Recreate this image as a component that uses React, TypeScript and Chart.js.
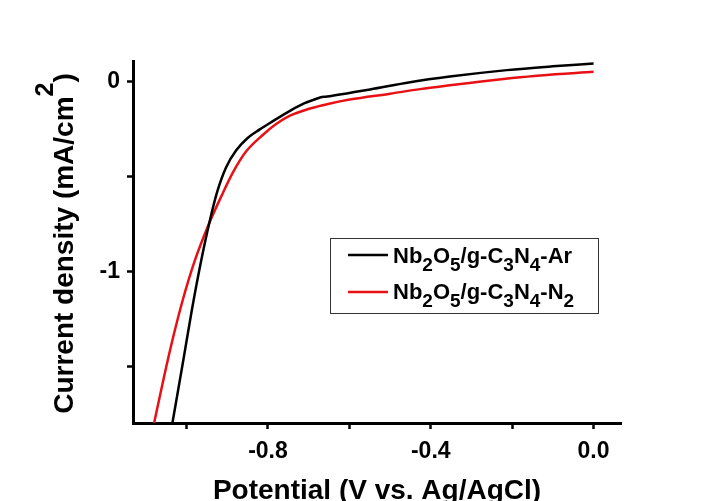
import React, { useEffect, useRef } from "react";
import { Chart, registerables } from "chart.js";

Chart.register(...registerables);

// ---- data ----
const arPotential = [-1.035, -1.008, -0.987, -0.965, -0.945, -0.925, -0.903, -0.878, -0.85, -0.82, -0.795, -0.746, -0.71, -0.69, -0.672, -0.655, -0.6, -0.549, -0.451, -0.353, -0.213, -0.1, 0.0];
const arCurrent = [-1.798, -1.465, -1.2, -0.95, -0.75, -0.58, -0.45, -0.36, -0.295, -0.25, -0.216, -0.152, -0.112, -0.096, -0.082, -0.077, -0.058, -0.04, -0.002, 0.028, 0.062, 0.082, 0.097];

const n2Potential = [-1.08, -1.056, -1.033, -1.009, -0.98, -0.947, -0.914, -0.886, -0.853, -0.812, -0.78, -0.746, -0.697, -0.65, -0.599, -0.5, -0.426, -0.353, -0.295, -0.2, -0.131, 0.0];
const n2Current = [-1.798, -1.558, -1.344, -1.145, -0.942, -0.757, -0.599, -0.476, -0.364, -0.278, -0.222, -0.178, -0.14, -0.115, -0.093, -0.062, -0.038, -0.018, -0.003, 0.02, 0.034, 0.053];

const xTickValues = [-1.0, -0.8, -0.6, -0.4, -0.2, 0.0];
const xTickLabels = ["", "-0.8", "", "-0.4", "", "0.0"];
const yTickValues = [-1.5, -1.0, -0.5, 0.0];
const yTickLabels = ["", "-1", "", "0"];

// legend parts: [text, isSubscript]
const legendAr: [string, boolean][] = [["Nb", false], ["2", true], ["O", false], ["5", true], ["/g-C", false], ["3", true], ["N", false], ["4", true], ["-Ar", false]];
const legendN2: [string, boolean][] = [["Nb", false], ["2", true], ["O", false], ["5", true], ["/g-C", false], ["3", true], ["N", false], ["4", true], ["-N", false], ["2", true]];

const xTitle = "Potential (V vs. Ag/AgCl)";
const yTitleMain = "Current density (mA/cm";
const yTitleSup = "2";
const yTitleEnd = ")";

const FONT = "'Liberation Sans', Arial, Helvetica, sans-serif";
const RED = "rgb(232,16,20)";

const legendPlugin = {
  id: "customLegend",
  afterDraw(chart: any) {
    const ctx = chart.ctx;
    const ca = chart.chartArea;
    const bx = ca.left + 197;
    const by = ca.top + 177;
    const bw = 268;
    const bh = 75;
    ctx.save();
    ctx.fillStyle = "#fff";
    ctx.fillRect(bx, by, bw, bh);
    ctx.strokeStyle = "#333";
    ctx.lineWidth = 1;
    ctx.strokeRect(bx + 0.5, by + 0.5, bw, bh);
    const rows = [
      { parts: legendAr, color: "#000", lineY: by + 17, base: by + 24.5 },
      { parts: legendN2, color: RED, lineY: by + 54, base: by + 61 },
    ];
    for (const r of rows) {
      ctx.strokeStyle = r.color;
      ctx.lineWidth = 2.5;
      ctx.beginPath();
      ctx.moveTo(bx + 18, r.lineY);
      ctx.lineTo(bx + 58, r.lineY);
      ctx.stroke();
      let x = bx + 63;
      ctx.fillStyle = "#000";
      ctx.textBaseline = "alphabetic";
      ctx.textAlign = "left";
      for (const [t, sub] of r.parts) {
        ctx.font = sub ? `bold 19px ${FONT}` : `bold 22px ${FONT}`;
        ctx.fillText(t, x, r.base + (sub ? 8 : 0));
        x += ctx.measureText(t).width;
      }
    }
    ctx.restore();
  },
};

const yTitlePlugin = {
  id: "yTitle",
  afterDraw(chart: any) {
    const ctx = chart.ctx;
    const ca = chart.chartArea;
    const cy = (ca.top + ca.bottom) / 2 + 1.5;
    ctx.save();
    ctx.translate(73, cy);
    ctx.rotate(-Math.PI / 2);
    ctx.fillStyle = "#000";
    ctx.textBaseline = "alphabetic";
    ctx.textAlign = "left";
    const mainFont = `bold 28px ${FONT}`;
    const supFont = `bold 25px ${FONT}`;
    ctx.font = mainFont;
    const w1 = ctx.measureText(yTitleMain).width;
    const w3 = ctx.measureText(yTitleEnd).width;
    ctx.font = supFont;
    const w2 = ctx.measureText(yTitleSup).width;
    let x = -(w1 + w2 + w3) / 2;
    ctx.font = mainFont;
    ctx.fillText(yTitleMain, x, 0);
    x += w1;
    ctx.font = supFont;
    ctx.fillText(yTitleSup, x, -20);
    x += w2;
    ctx.font = mainFont;
    ctx.fillText(yTitleEnd, x, 0);
    ctx.restore();
  },
};

export default function App() {
  const canvasRef = useRef<HTMLCanvasElement | null>(null);

  useEffect(() => {
    document.body.style.margin = "0";
    const canvas = canvasRef.current;
    if (!canvas) return;
    const chart = new Chart(canvas, {
      type: "line",
      data: {
        datasets: [
          {
            label: "Nb2O5/g-C3N4-Ar",
            data: arPotential.map((x, i) => ({ x, y: arCurrent[i] })),
            borderColor: "#000",
            borderWidth: 2.5,
            pointRadius: 0,
            fill: false,
            cubicInterpolationMode: "monotone",
          },
          {
            label: "Nb2O5/g-C3N4-N2",
            data: n2Potential.map((x, i) => ({ x, y: n2Current[i] })),
            borderColor: RED,
            borderWidth: 2.5,
            pointRadius: 0,
            fill: false,
            cubicInterpolationMode: "monotone",
          },
        ],
      },
      options: {
        animation: false,
        responsive: true,
        maintainAspectRatio: false,
        layout: { padding: { left: 0, right: 90, top: 61, bottom: 0 } },
        plugins: { legend: { display: false }, tooltip: { enabled: false } },
        scales: {
          x: {
            type: "linear",
            min: -1.1316,
            max: 0.0674,
            afterBuildTicks: (scale: any) => {
              scale.ticks = xTickValues.map((v) => ({ value: v }));
            },
            afterFit: (scale: any) => {
              scale.height = 78;
            },
            ticks: {
              autoSkip: false,
              maxRotation: 0,
              padding: 9,
              color: "#000",
              font: { family: FONT, size: 23, weight: "bold" },
              callback: (v: any) => {
                const i = xTickValues.findIndex((t) => Math.abs(t - Number(v)) < 1e-6);
                return i >= 0 ? xTickLabels[i] : "";
              },
            },
            grid: { display: true, drawOnChartArea: false, drawTicks: true, tickLength: 6, tickWidth: 2.5, tickColor: "#000" },
            border: { display: true, color: "#000", width: 3 },
            title: {
              display: true,
              text: xTitle,
              color: "#000",
              font: { family: FONT, size: 28, weight: "bold", lineHeight: 1 },
              padding: { top: 0, bottom: -4 },
            },
          },
          y: {
            type: "linear",
            min: -1.795,
            max: 0.11,
            afterBuildTicks: (scale: any) => {
              scale.ticks = yTickValues.map((v) => ({ value: v }));
            },
            afterFit: (scale: any) => {
              scale.width = 133;
            },
            ticks: {
              autoSkip: false,
              padding: 7,
              color: "#000",
              font: { family: FONT, size: 23, weight: "bold" },
              callback: (v: any) => {
                const i = yTickValues.findIndex((t) => Math.abs(t - Number(v)) < 1e-6);
                return i >= 0 ? yTickLabels[i] : "";
              },
            },
            grid: { display: true, drawOnChartArea: false, drawTicks: true, tickLength: 6, tickWidth: 2.5, tickColor: "#000" },
            border: { display: true, color: "#000", width: 3 },
            title: { display: false },
          },
        },
      },
      plugins: [legendPlugin, yTitlePlugin],
    });
    return () => chart.destroy();
  }, []);

  return (
    <div style={{ width: 711, height: 501, position: "relative", background: "#fff" }}>
      <canvas ref={canvasRef} />
    </div>
  );
}
